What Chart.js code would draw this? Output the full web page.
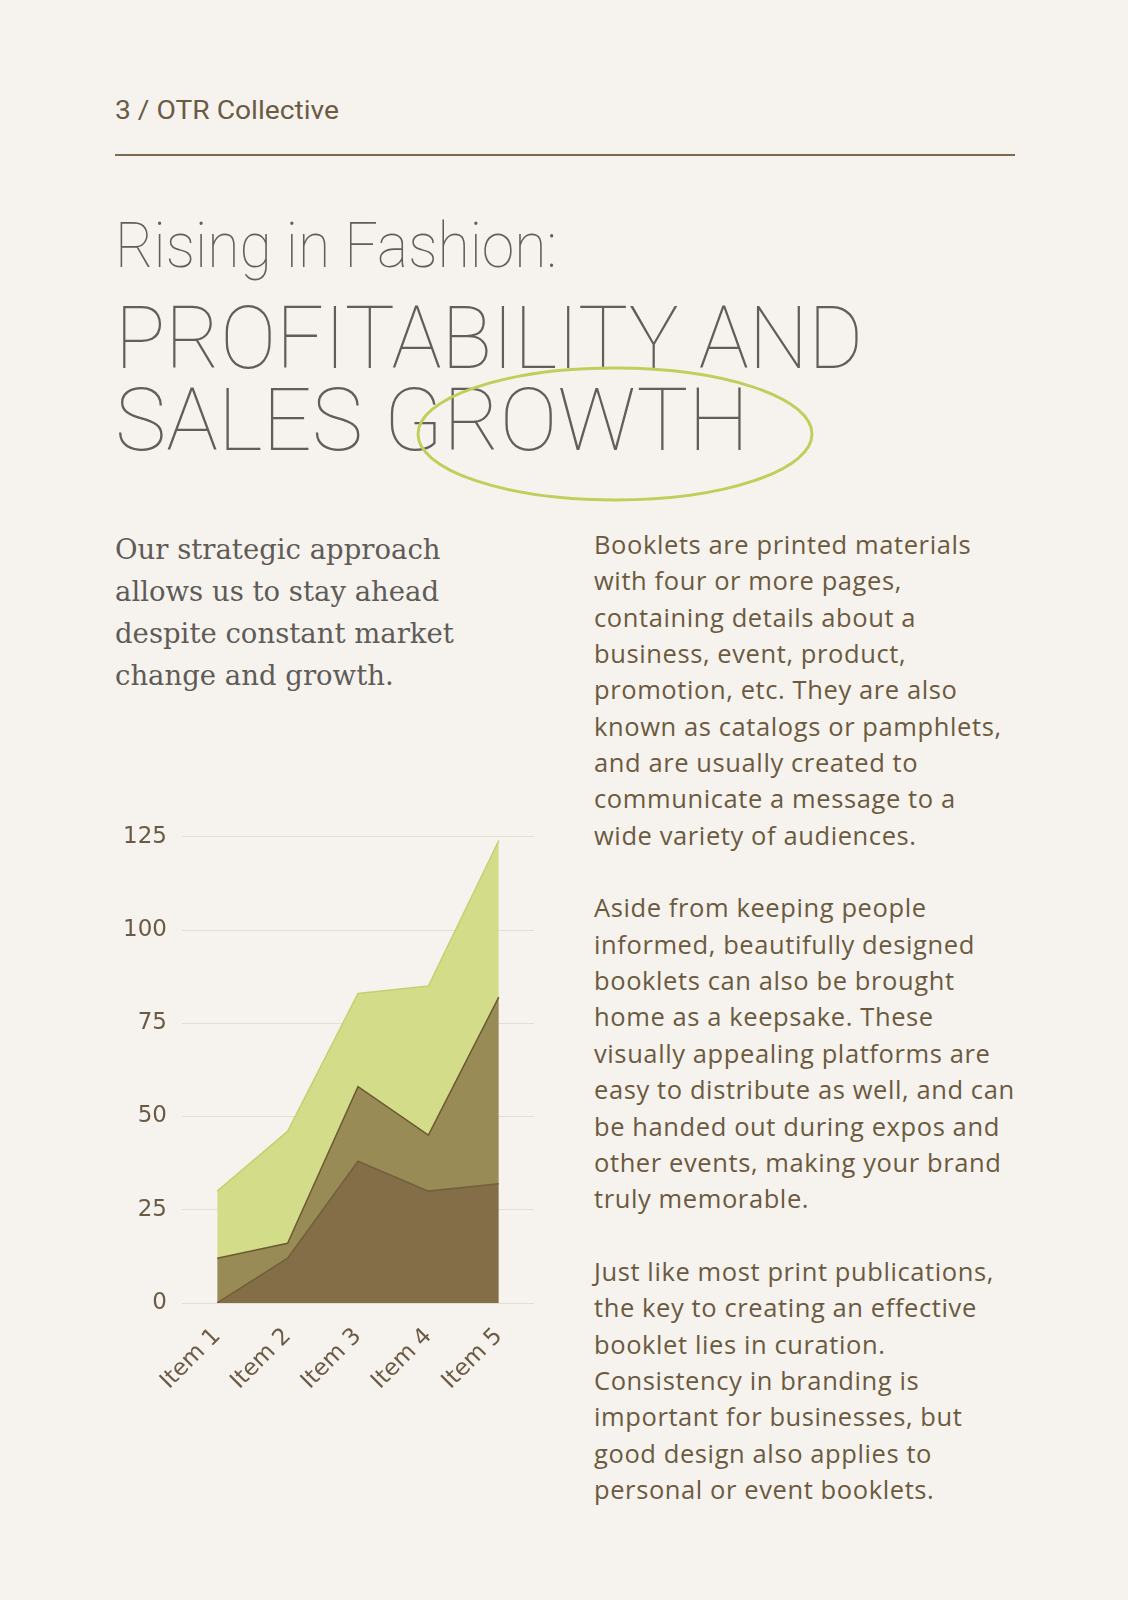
<!DOCTYPE html>
<html>
<head>
<meta charset="utf-8">
<script src="https://cdn.jsdelivr.net/npm/chart.js@4"></script>
<style>
  html, body { margin:0; padding:0; }
  body { width:1128px; height:1600px; background:#f6f3ee; position:relative; overflow:hidden; }
  .abs { position:absolute; white-space:pre; }
  .fit { transform-origin:0 0; }
  #hdr { left:115px; top:98px; font:400 25px/1 Roboto, sans-serif; color:#6b5a44; }
  #rule { left:115px; top:154px; width:900px; height:2px; background:#7c6a50; }
  .title { left:115px; font-family:Roboto, sans-serif; font-weight:100; line-height:0.8; color:#625e59; }
  #t1 { top:221px; font-size:63px; }
  #t2 { top:304px; font-size:87px; }
  #t3 { top:386px; font-size:87px; }
  #lead { left:115px; top:528px; font:400 27.5px/42px "DejaVu Serif", serif; color:#5f5b57; }
  #body { left:594px; top:526px; font:400 25.5px/36.35px "Open Sans", sans-serif; letter-spacing:0.6px; color:#6b5a40; }
  #ring { left:0; top:0; }
  #chartBox { position:absolute; left:100px; top:808px; width:434px; height:595px; }
</style>
</head>
<body>
<div class="abs fit" id="hdr" data-w="224">3 / OTR Collective</div>
<div class="abs" id="rule"></div>
<div class="abs title fit" id="t1" data-w="442">Rising in Fashion:</div>
<div class="abs title fit" id="t2" data-w="748">PROFITABILITY AND</div>
<div class="abs title fit" id="t3" data-w="634">SALES GROWTH</div>
<svg class="abs" id="ring" width="1128" height="600">
  <ellipse cx="615" cy="434" rx="197" ry="66" fill="none" stroke="#bdd05c" stroke-width="3"/>
</svg>
<div class="abs" id="lead">Our strategic approach
allows us to stay ahead
despite constant market
change and growth.</div>
<div class="abs" id="body">Booklets are printed materials
with four or more pages,
containing details about a
business, event, product,
promotion, etc. They are also
known as catalogs or pamphlets,
and are usually created to
communicate a message to a
wide variety of audiences.

Aside from keeping people
informed, beautifully designed
booklets can also be brought
home as a keepsake. These
visually appealing platforms are
easy to distribute as well, and can
be handed out during expos and
other events, making your brand
truly memorable.

Just like most print publications,
the key to creating an effective
booklet lies in curation.
Consistency in branding is
important for businesses, but
good design also applies to
personal or event booklets.</div>
<div id="chartBox"><canvas id="areaChart"></canvas></div>
<script>
// data (stacked areas)
var categories = ['Item 1', 'Item 2', 'Item 3', 'Item 4', 'Item 5'];
var bottomSeries = [0, 12, 38, 30, 32];
var middleSeries = [12, 4, 20, 15, 50];
var topSeries = [18, 30, 25, 40, 42];
var yMax = 125;
var yStep = 25;

// squeeze the display titles to the widths in the picture
document.querySelectorAll('.fit').forEach(function (el) {
  var w = el.getBoundingClientRect().width;
  el.style.transform = 'scaleX(' + (parseFloat(el.dataset.w) / w) + ')';
});

var tickFont = { family: '"DejaVu Sans", sans-serif', size: 23 };
var tickColor = '#6b5a44';

var ctx = document.getElementById('areaChart').getContext('2d');
var areaChart = new Chart(ctx, {
  type: 'line',
  data: {
    labels: categories,
    datasets: [{
      label: 'Series 1',
      data: bottomSeries,
      fill: 'origin',
      backgroundColor: '#836e48',
      borderColor: '#735f3c',
      borderWidth: 1.5
    }, {
      label: 'Series 2',
      data: middleSeries,
      fill: '-1',
      backgroundColor: '#998b55',
      borderColor: '#6c5a35',
      borderWidth: 1.5
    }, {
      label: 'Series 3',
      data: topSeries,
      fill: '-1',
      backgroundColor: '#d3dc88',
      borderColor: '#c3d270',
      borderWidth: 1.5
    }]
  },
  options: {
    responsive: true,
    maintainAspectRatio: false,
    animation: false,
    elements: { point: { radius: 0 }, line: { tension: 0 } },
    layout: { padding: 0 },
    plugins: { legend: { display: false }, tooltip: { enabled: false } },
    scales: {
      x: {
        offset: true,
        grid: { display: false },
        border: { display: false },
        ticks: { font: tickFont, color: tickColor, minRotation: 45, maxRotation: 45, padding: 12 },
        afterFit: function (scale) { scale.height = 100; }
      },
      y: {
        stacked: true,
        min: 0,
        max: yMax,
        border: { display: false },
        grid: { color: '#e4dfd6', lineWidth: 1, drawTicks: false },
        ticks: { stepSize: yStep, font: tickFont, color: tickColor, padding: 15 },
        afterFit: function (scale) { scale.width = 82; }
      }
    }
  }
});
</script>
</body>
</html>
